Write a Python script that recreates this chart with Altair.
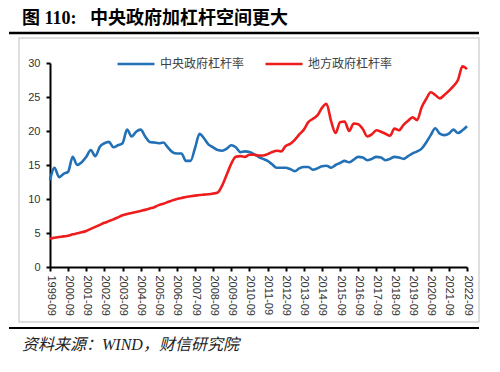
import altair as alt
import pandas as pd

# ---------------- data ----------------
series_names = ["中央政府杠杆率", "地方政府杠杆率"]
series_colors = ["#2270B5", "#EE1C1C"]

tick_labels = ["1999-09", "2000-09", "2001-09", "2002-09", "2003-09", "2004-09",
               "2005-09", "2006-09", "2007-09", "2008-09", "2009-09", "2010-09",
               "2011-09", "2012-09", "2013-09", "2014-09", "2015-09", "2016-09",
               "2017-09", "2018-09", "2019-09", "2020-09", "2021-09", "2022-09"]

# quarterly values, 1999-09 ... 2022-09
central = [12.75, 14.6, 13.2, 13.7, 14.0, 16.2, 15.0, 15.4, 16.2, 17.2,
           16.3, 17.7, 18.2, 18.4, 17.6, 17.9, 18.2, 20.2, 19.2, 19.9,
           20.2, 19.2, 18.4, 18.3, 18.2, 18.3, 17.6, 16.9, 16.7, 16.7,
           15.6, 15.6, 17.5, 19.6, 18.9, 18.0, 17.6, 17.2, 17.1, 17.4,
           17.9, 17.6, 16.9, 17.0, 16.9, 16.6, 16.2, 15.9, 15.6, 15.1,
           14.6, 14.6, 14.6, 14.4, 14.1, 14.5, 14.7, 14.7, 14.3, 14.5,
           14.8, 14.9, 14.6, 15.0, 15.3, 15.6, 15.4, 15.8, 16.2, 16.1,
           15.7, 15.9, 16.2, 16.1, 15.7, 15.9, 16.2, 16.1, 15.9, 16.3,
           16.7, 17.0, 17.4, 18.3, 19.4, 20.4, 19.6, 19.4, 19.6, 20.2,
           19.7, 20.1, 20.7]

local = [4.2, 4.3, 4.4, 4.5, 4.6, 4.8, 4.95, 5.1, 5.3, 5.6,
         5.9, 6.2, 6.5, 6.75, 7.0, 7.3, 7.6, 7.8, 7.95, 8.1,
         8.25, 8.4, 8.6, 8.8, 9.1, 9.3, 9.55, 9.8, 10.0, 10.15,
         10.3, 10.4, 10.5, 10.6, 10.65, 10.7, 10.8, 10.95, 12.0, 13.6,
         15.2, 16.2, 16.3, 16.2, 16.5, 16.5, 16.4, 16.4, 16.6, 16.9,
         17.1, 17.0, 17.8, 18.1, 18.7, 19.5, 20.2, 21.3, 21.8, 22.3,
         23.4, 24.0, 21.5, 19.7, 21.3, 21.4, 20.0, 21.1, 21.0, 20.3,
         19.2, 19.5, 20.1, 19.9, 19.6, 19.3, 20.35, 20.1, 20.9, 21.5,
         22.0, 21.6, 23.5, 24.7, 25.7, 25.3, 24.8, 25.3, 25.9, 26.6,
         27.5, 29.5, 29.1]

title_text = "图 110:\u00a0\u00a0\u00a0中央政府加杠杆空间更大"
source_text = "资料来源：WIND，财信研究院"

# ---------------- table ----------------
rows = []
for name, vals in zip(series_names, [central, local]):
    for i, v in enumerate(vals):
        rows.append({"q": i, "v": v, "series": name})
df = pd.DataFrame(rows)

label_expr = "[" + ",".join("'%s'" % t for t in tick_labels) + "][round(datum.value/4)]"

W, H = 417, 204
CJK = "Liberation Sans, Noto Sans CJK SC"
SERIF = "Liberation Serif, Noto Sans CJK SC"

lines = alt.Chart(df).mark_line(strokeWidth=2.6, interpolate="monotone").encode(
    x=alt.X("q:Q",
            scale=alt.Scale(domain=[0, 92], nice=False, zero=False),
            axis=alt.Axis(values=list(range(0, 93, 4)), labelExpr=label_expr,
                          labelAngle=90, title=None, grid=False,
                          labelFont="Liberation Sans", labelFontSize=11,
                          labelColor="#333333", labelPadding=4,
                          domainColor="#000000", domainWidth=2,
                          tickColor="#000000", tickWidth=2, tickSize=4)),
    y=alt.Y("v:Q",
            scale=alt.Scale(domain=[0, 30], nice=False),
            axis=alt.Axis(values=[0, 5, 10, 15, 20, 25, 30], title=None, grid=False,
                          labelFont="Liberation Sans", labelFontSize=11,
                          labelColor="#333333", labelPadding=6,
                          domainColor="#000000", domainWidth=2,
                          tickColor="#000000", tickWidth=2, tickSize=4)),
    color=alt.Color("series:N",
                    scale=alt.Scale(domain=series_names, range=series_colors),
                    legend=alt.Legend(title=None, orient="none", direction="horizontal",
                                      legendX=66, legendY=-19,
                                      symbolType="stroke", symbolSize=1369,
                                      symbolStrokeWidth=2.6, labelFont=CJK,
                                      labelFontSize=12, labelColor="#404040",
                                      labelOffset=4, columnPadding=15, padding=0)),
)

frame = alt.Chart(pd.DataFrame({"a": [0]})).mark_rect(
    fillOpacity=0, stroke="#d4d4d4", strokeWidth=1.5).encode(
    x=alt.value(-31), x2=alt.value(429), y=alt.value(-25), y2=alt.value(259))

top_rule = alt.Chart(pd.DataFrame({"a": [0]})).mark_rule(
    color="#000000", strokeWidth=2.6).encode(
    x=alt.value(-41), x2=alt.value(429), y=alt.value(-30))

bottom_rule = alt.Chart(pd.DataFrame({"a": [0]})).mark_rule(
    color="#000000", strokeWidth=2.2).encode(
    x=alt.value(-41), x2=alt.value(429), y=alt.value(265))

title = alt.Chart(pd.DataFrame({"t": [title_text]})).mark_text(
    align="left", baseline="alphabetic", font=SERIF, fontSize=18,
    fontWeight="bold", color="#000000").encode(
    text="t:N", x=alt.value(-28), y=alt.value(-39))

source = alt.Chart(pd.DataFrame({"t": [source_text]})).mark_text(
    align="left", baseline="middle", font=SERIF, fontSize=16,
    fontStyle="italic", fontWeight="normal", color="#222222").encode(
    text="t:N", x=alt.value(-28), y=alt.value(282))

chart = alt.layer(frame, top_rule, bottom_rule, title, source, lines).properties(
    width=W, height=H,
    autosize=alt.AutoSizeParams(type="none"),
    padding={"left": 42, "top": 55, "right": 25, "bottom": 97},
    background="#ffffff",
).configure_view(stroke=None)

chart.save("out.html", embed_options={"renderer": "svg", "actions": False})
